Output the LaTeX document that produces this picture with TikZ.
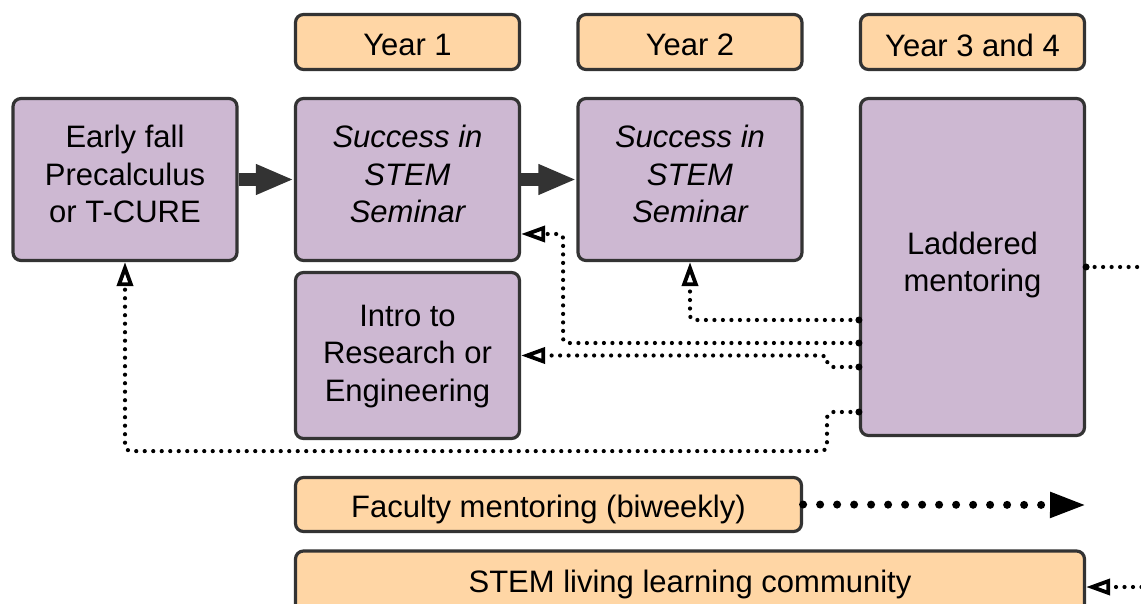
\documentclass[tikz,border=0pt]{standalone}
\usepackage{fontspec}
\setmainfont{Liberation Sans}
\usetikzlibrary{arrows.meta,calc}
\definecolor{lav}{HTML}{CDB8D2}
\definecolor{peach}{HTML}{FFD6A5}
\definecolor{edge}{HTML}{333333}
\begin{document}
\begin{tikzpicture}[x=1pt,y=-1pt,
  box/.style={draw=edge,line width=3.2pt,rounded corners=8pt,inner sep=0pt},
  pbox/.style={box,fill=lav},
  obox/.style={box,fill=peach},
  lbl/.style={align=center,inner sep=0pt,font=\fontsize{31}{37.5}\selectfont},
  bigarrow/.style={draw=edge,line width=13pt,-{Triangle[length=38pt,width=28pt]}},
  dotline/.style={line width=4.2pt,dash pattern=on 0pt off 8.5pt,line cap=round},
  opentip/.style={-{Triangle[open,length=24pt,width=16pt,line width=3.8pt]}}
  ]
\clip (0,0) rectangle (1141,604);
\useasboundingbox (0,0) rectangle (1141,604);
% headers
\node[obox,minimum width=224pt,minimum height=55pt] (y1) at (407.5,42) {};
\node[obox,minimum width=224pt,minimum height=55pt] (y2) at (690,42) {};
\node[obox,minimum width=224pt,minimum height=55pt] (y3) at (972.5,42) {};
\node[lbl] (y1t) at ($(y1.center)+(0,3)$) {Year 1};
\node[lbl] (y2t) at ($(y2.center)+(0,3)$) {Year 2};
\node[lbl] (y3t) at ($(y3.center)+(0,3)$) {Year 3 and 4};
% main boxes
\node[pbox,minimum width=224pt,minimum height=162pt] (early) at (125,179.5) {};
\node[pbox,minimum width=224pt,minimum height=162pt] (s1) at (407.5,179.5) {};
\node[pbox,minimum width=224pt,minimum height=162pt] (s2) at (690,179.5) {};
\node[pbox,minimum width=224pt,minimum height=166pt] (intro) at (407.5,355.5) {};
\node[pbox,minimum width=224pt,minimum height=337pt] (lad) at (972.5,267) {};
\node[obox,minimum width=506pt,minimum height=54pt] (fac) at (548.5,504.5) {};
\node[obox,minimum width=789pt,minimum height=62pt] (llc) at (690,582) {};
\node[lbl] (earlyt) at ($(early.center)+(0,-5.5)$) {Early fall\\Precalculus\\or T-CURE};
\node[lbl,font=\fontsize{31}{37.5}\selectfont\itshape] (s1t) at ($(s1.center)+(0,-5.5)$) {Success in\\STEM\\Seminar};
\node[lbl,font=\fontsize{31}{37.5}\selectfont\itshape] (s2t) at ($(s2.center)+(0,-5.5)$) {Success in\\STEM\\Seminar};
\node[lbl] (introt) at ($(intro.center)+(0,1)$) {Intro to\\Research or\\Engineering};
\node[lbl] (ladt) at ($(lad.center)+(0,-2)$) {Laddered\\mentoring};
\node[lbl] (fact) at ($(fac.center)+(0,5)$) {Faculty mentoring (biweekly)};
\node[lbl] (llct) at ($(llc.center)+(0,2)$) {STEM living learning community};
% thick arrows
\draw[bigarrow] (early.east) -- (s1.west);
\draw[bigarrow] (s1.east) -- (s2.west);
% dotted connectors from laddered mentoring
\coordinate (L1) at ($(lad.west)+(0,53)$);
\coordinate (L2) at ($(lad.west)+(0,76)$);
\coordinate (L3) at ($(lad.west)+(0,100)$);
\coordinate (L4) at ($(lad.west)+(0,145)$);
\foreach \p in {L1,L2,L3,L4} \fill (\p) circle (3.5pt);
\draw[dotline,opentip,rounded corners=4pt] (L1) -| (s2.south);
\draw[dotline,opentip,rounded corners=4pt] (L2) -| ($(s1.east)+(42,54.5)$) -- ($(s1.east)+(0,54.5)$);
\draw[dotline,opentip,rounded corners=6pt] (L3) -| ($(intro.east)+(306,0)$) -- (intro.east);
\draw[dotline,opentip,rounded corners=6pt] (L4) -| ($(early.south)+(702,189)$) -| (early.south);
% right side
\coordinate (r1) at (1141,267);
\fill (lad.east) circle (3.5pt);
\draw[dotline] (lad.east) -- (r1);
\coordinate (r2) at (1150,587);
\draw[dotline,opentip] (r2) -- ($(llc.east)+(0,5)$);
% faculty arrow
\coordinate (fend) at (1086,505);
\draw[line width=8pt,dash pattern=on 0pt off 17pt,line cap=round,-{Triangle[length=36pt,width=24pt]}] (fac.east) -- (fend);
\end{tikzpicture}
\end{document}
